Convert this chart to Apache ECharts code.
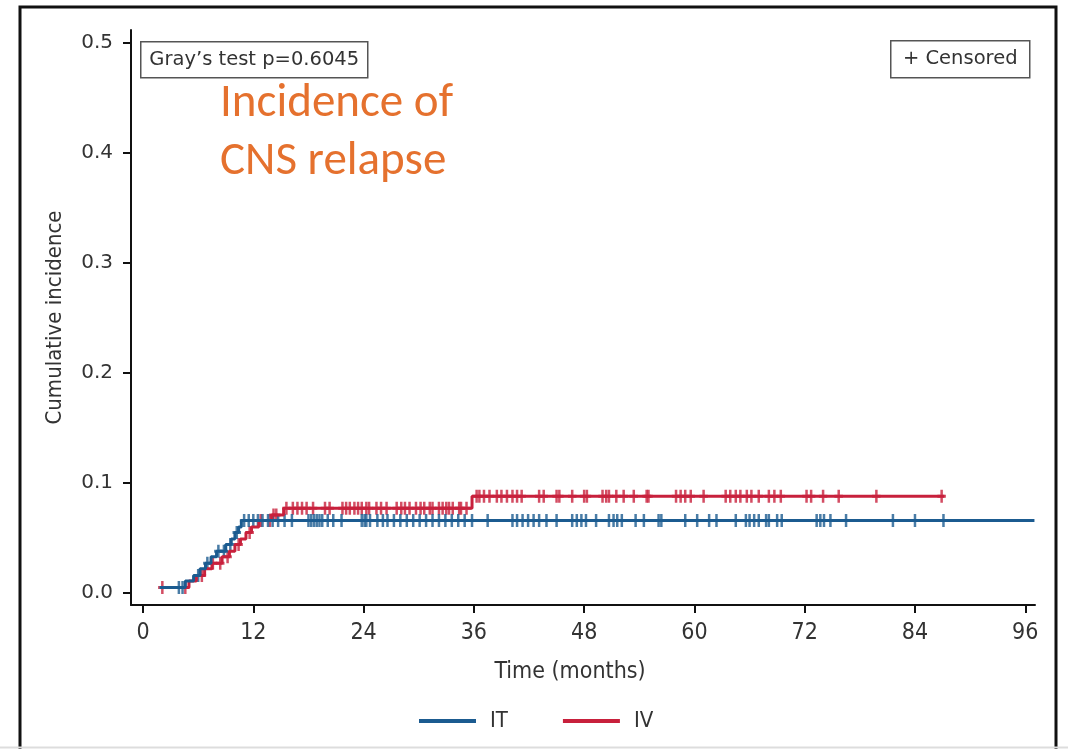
<!DOCTYPE html>
<html>
<head>
<meta charset="utf-8">
<script src="https://cdn.jsdelivr.net/npm/echarts@6/dist/echarts.min.js"></script>
<style>
    html, body { margin: 0; padding: 0; background: #fff; }
    #chart { width: 1068px; height: 749px; }
</style>
</head>
<body>
<div id="chart"></div>
<script>
// step curves: event time (months) and cumulative incidence after it
const itTimes = [1.8, 4.6, 5.5, 6.2, 6.8, 7.4, 8.0, 9.0, 9.6, 10.0, 10.4, 10.7, 97.0];
const itValues = [0.005, 0.011, 0.016, 0.022, 0.027, 0.033, 0.038, 0.044, 0.049, 0.055, 0.060, 0.066, 0.066];
const ivTimes = [2.1, 5.0, 5.8, 6.7, 7.5, 8.6, 9.4, 10.0, 10.6, 11.2, 11.8, 12.6, 14.0, 15.3, 35.8, 87.2];
const ivValues = [0.005, 0.011, 0.016, 0.022, 0.027, 0.033, 0.038, 0.044, 0.049, 0.055, 0.060, 0.066, 0.071, 0.077, 0.088, 0.088];

// censored observations (months)
const itCensored = [3.9, 4.3, 6.0, 7.0, 8.2, 8.8, 9.5, 10.2, 11.0, 11.5, 12.0, 12.5, 13.0, 13.6, 14.1, 14.7, 15.4, 16.2,
    18.0, 18.3, 18.6, 18.9, 19.2, 19.5, 20.1, 20.7, 21.6, 23.8, 24.1, 24.3, 24.7, 25.5, 26.1, 26.6, 27.3, 28.0, 28.7,
    29.4, 30.1, 30.8, 31.5, 32.2, 32.9, 33.6, 34.3, 35.0, 35.8, 37.5, 40.2, 40.7, 41.3, 41.9, 42.5, 43.1, 43.9, 45.0,
    46.7, 47.2, 47.7, 48.2, 49.3, 50.7, 51.2, 51.6, 52.1, 53.6, 54.5, 56.1, 56.4, 59.0, 60.3, 61.6, 62.4, 64.5, 65.6,
    66.0, 66.5, 67.0, 67.8, 68.1, 69.0, 69.5, 73.3, 73.7, 74.1, 74.8, 76.5, 81.6, 84.0, 87.1];
const ivCensored = [2.1, 4.6, 6.4, 7.6, 8.4, 9.2, 10.4, 11.6, 12.8, 13.8, 14.2, 14.5, 15.6, 16.3, 16.8, 17.3, 17.8, 18.5,
    19.8, 20.3, 21.7, 22.1, 22.5, 23.0, 23.4, 23.8, 24.3, 24.6, 25.4, 25.9, 26.5, 27.6, 28.1, 28.5, 29.0, 29.7, 30.2,
    30.6, 31.2, 31.5, 32.2, 32.6, 33.0, 33.3, 33.7, 34.4, 34.6, 35.2, 36.3, 36.6, 37.1, 37.7, 38.5, 39.0, 39.6, 40.2,
    40.7, 41.2, 43.1, 43.6, 45.0, 45.3, 46.7, 48.0, 48.3, 50.0, 50.4, 50.7, 51.5, 52.3, 53.4, 54.8, 55.0, 58.0, 58.5,
    59.0, 59.6, 61.0, 63.4, 63.9, 64.5, 65.0, 65.7, 66.2, 67.0, 68.1, 68.7, 69.4, 72.2, 72.7, 74.0, 75.7, 79.8, 86.9];

const xTicks = [0, 12, 24, 36, 48, 60, 72, 84, 96];
const yTicks = [0, 0.1, 0.2, 0.3, 0.4, 0.5];

const blue = '#1b5b90';
const red = '#c8203c';
const plus = 'path://M3,0H5.5V5H8.5V8H5.5V13H3V8H0V5H3Z';
const narrow = '"Liberation Sans Narrow", "DejaVu Sans Condensed", sans-serif';

function levelAt(times, values, t) {
    let v = 0;
    for (let i = 0; i < times.length; i++) {
        if (times[i] <= t) v = values[i];
    }
    return v;
}

function censorPoints(times, values, cens) {
    return cens.map(t => [t, levelAt(times, values, t)]);
}

const chart = echarts.init(document.getElementById('chart'));
chart.setOption({
    animation: false,
    title: {
        text: 'Incidence of\nCNS relapse',
        left: 215,
        top: 70,
        textStyle: {
            fontFamily: 'Carlito, Lato, sans-serif',
            fontWeight: 'normal',
            fontSize: 47,
            lineHeight: 58,
            color: '#e5712e'
        }
    },
    grid: { left: 131, right: 33, top: 30, bottom: 144 },
    legend: {
        data: ['IT', 'IV'],
        left: 414,
        top: 705,
        icon: 'rect',
        itemWidth: 57,
        itemHeight: 4,
        itemGap: 55,
        textStyle: { fontFamily: narrow, fontSize: 22, color: '#333', padding: [0, 0, 0, 9] }
    },
    xAxis: {
        type: 'value',
        min: -1.31,
        max: 97.06,
        name: 'Time (months)',
        nameLocation: 'middle',
        nameGap: 56,
        nameTextStyle: { fontFamily: narrow, fontSize: 23, color: '#333', padding: [0, 26, 0, 0] },
        splitLine: { show: false },
        axisLine: { onZero: false, lineStyle: { color: '#111', width: 2 } },
        axisTick: { customValues: xTicks, length: 8, lineStyle: { color: '#111', width: 2 } },
        axisLabel: { customValues: xTicks, margin: 17, fontFamily: narrow, fontSize: 23, color: '#333' }
    },
    yAxis: {
        type: 'value',
        min: -0.0109,
        max: 0.5118,
        name: 'Cumulative incidence',
        nameLocation: 'middle',
        nameGap: 65,
        nameTextStyle: { fontFamily: narrow, fontSize: 22, color: '#333' },
        splitLine: { show: false },
        axisLine: { show: true, onZero: false, lineStyle: { color: '#111', width: 2 } },
        axisTick: { show: true, customValues: yTicks, length: 8, lineStyle: { color: '#111', width: 2 } },
        axisLabel: {
            customValues: yTicks,
            margin: 18,
            fontFamily: '"DejaVu Sans", sans-serif',
            fontSize: 20,
            color: '#333',
            formatter: v => v.toFixed(1)
        }
    },
    series: [
        {
            name: 'IV',
            type: 'line',
            step: 'end',
            showSymbol: false,
            data: ivTimes.map((t, i) => [t, ivValues[i]]),
            lineStyle: { color: red, width: 3 },
            itemStyle: { color: red }
        },
        {
            name: 'IV censored',
            type: 'scatter',
            symbol: plus,
            symbolSize: [8.5, 13],
            data: censorPoints(ivTimes, ivValues, ivCensored),
            itemStyle: { color: red }
        },
        {
            name: 'IT',
            type: 'line',
            step: 'end',
            showSymbol: false,
            data: itTimes.map((t, i) => [t, itValues[i]]),
            lineStyle: { color: blue, width: 3 },
            itemStyle: { color: blue }
        },
        {
            name: 'IT censored',
            type: 'scatter',
            symbol: plus,
            symbolSize: [8.5, 13],
            data: censorPoints(itTimes, itValues, itCensored),
            itemStyle: { color: blue }
        }
    ],
    graphic: [
        {
            type: 'rect',
            shape: { x: 20, y: 7, width: 1036, height: 780 },
            style: { fill: null, stroke: '#111', lineWidth: 3 }
        },
        {
            type: 'line',
            shape: { x1: 0, y1: 747.5, x2: 1068, y2: 747.5 },
            style: { stroke: '#ddd', lineWidth: 2 }
        },
        {
            type: 'group',
            left: 140,
            top: 41,
            children: [
                { type: 'rect', shape: { x: 0, y: 0, width: 227, height: 36 }, style: { fill: '#fff', stroke: '#555', lineWidth: 1.5 } },
                { type: 'text', x: 113.5, y: 18, style: { text: 'Gray’s test p=0.6045', align: 'center', verticalAlign: 'middle', font: '19.5px "DejaVu Sans", sans-serif', fill: '#333' } }
            ]
        },
        {
            type: 'group',
            left: 890,
            top: 40,
            children: [
                { type: 'rect', shape: { x: 0, y: 0, width: 139, height: 37 }, style: { fill: '#fff', stroke: '#555', lineWidth: 1.5 } },
                { type: 'text', x: 69.5, y: 18.5, style: { text: '+ Censored', align: 'center', verticalAlign: 'middle', font: '19.5px "DejaVu Sans", sans-serif', fill: '#333' } }
            ]
        }
    ]
});
</script>
</body>
</html>
